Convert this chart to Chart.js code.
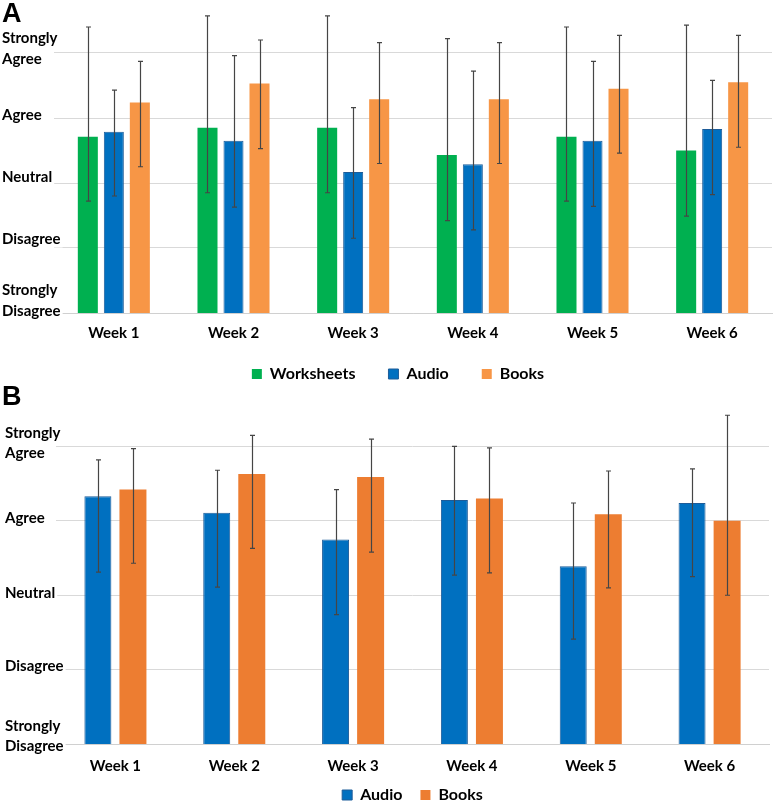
<!DOCTYPE html>
<html><head><meta charset="utf-8">
<script src="https://cdn.jsdelivr.net/npm/chart.js@4/dist/chart.umd.min.js"></script>
<style>
body{margin:0;background:#fff;width:773px;height:807px;overflow:hidden;position:relative;}
.panel{position:absolute;left:0;width:773px}
.lab{position:absolute;left:2px;font:bold 27px "Liberation Sans",Arial,sans-serif;color:#000;line-height:1}
</style></head><body>
<div class="panel" style="top:0;height:420px"><canvas id="chartA"></canvas></div>
<div class="panel" style="top:380px;height:450px"><canvas id="chartB"></canvas></div>
<div class="lab" style="top:0px">A</div>
<div class="lab" style="top:383px">B</div>
<script>
const weeks = ['Week 1','Week 2','Week 3','Week 4','Week 5','Week 6'];
const likertLabels = [['Strongly','Disagree'],'Disagree','Neutral','Agree',['Strongly','Agree']];
const likertValues = [1,2,3,4,5];

// Panel A
const aWorksheets     = [3.71,3.85,3.85,3.43,3.71,3.50];
const aWorksheetsLow  = [2.72,2.85,2.85,2.42,2.72,2.49];
const aWorksheetsHigh = [5.40,5.57,5.57,5.22,5.40,5.43];
const aAudio          = [3.79,3.65,3.17,3.29,3.65,3.83];
const aAudioLow       = [2.80,2.63,2.15,2.28,2.64,2.82];
const aAudioHigh      = [4.43,4.96,4.16,4.72,4.87,4.58];
const aBooks          = [4.24,4.53,4.29,4.29,4.45,4.55];
const aBooksLow       = [3.25,3.53,3.30,3.30,3.46,3.55];
const aBooksHigh      = [4.87,5.20,5.16,5.16,5.27,5.27];

// Panel B
const bAudio      = [4.33,4.11,3.75,4.28,3.39,4.24];
const bAudioLow   = [3.31,3.11,2.74,3.27,2.41,3.25];
const bAudioHigh  = [4.82,4.68,4.42,5.00,4.24,4.70];
const bBooks      = [4.42,4.63,4.59,4.30,4.09,4.00];
const bBooksLow   = [3.43,3.63,3.58,3.30,3.10,3.00];
const bBooksHigh  = [4.97,5.15,5.10,4.98,4.67,5.42];

const FONT = 'Lato';

const errorBars = {
  id: 'errorBars',
  afterDatasetsDraw(chart) {
    const ctx = chart.ctx, ys = chart.scales.y;
    chart.data.datasets.forEach((ds, i) => {
      const meta = chart.getDatasetMeta(i);
      meta.data.forEach((bar, j) => {
        const x = Math.round(bar.x) + 0.5;
        const yl = ys.getPixelForValue(ds.errLow[j]);
        const yh = ys.getPixelForValue(ds.errHigh[j]);
        ctx.save();
        ctx.strokeStyle = '#454545';
        ctx.lineWidth = 1.2;
        ctx.beginPath();
        ctx.moveTo(x, yh); ctx.lineTo(x, yl);
        ctx.moveTo(x - 2.5, yh); ctx.lineTo(x + 2.5, yh);
        ctx.moveTo(x - 2.5, yl); ctx.lineTo(x + 2.5, yl);
        ctx.stroke();
        ctx.restore();
      });
    });
  }
};

// Draws the Likert category names next to the y scale ticks
function makeAxisLabels(cfg) {
  return {
    id: 'likertAxisLabels',
    afterDraw(chart) {
      const ys = chart.scales.y, ctx = chart.ctx;
      ctx.save();
      ctx.font = 'bold ' + cfg.size + 'px ' + FONT;
      ctx.textAlign = 'left';
      ctx.textBaseline = 'middle';
      likertValues.forEach((v, i) => {
        const lines = [].concat(likertLabels[i]);
        const cy = ys.getPixelForValue(v) + cfg.shift[i];
        lines.forEach((ln, k) => {
          const y = cy + (k - (lines.length - 1) / 2) * cfg.lineH;
          const w = ctx.measureText(ln).width;
          ctx.fillStyle = '#fff';
          ctx.fillRect(cfg.x - 1, y - 8, w + 3, 16);
          ctx.fillStyle = '#000';
          ctx.fillText(ln, cfg.x, y);
        });
      });
      ctx.restore();
    }
  };
}

function makeLegendShift(dx, dy) {
  return {
    id: 'legendShift',
    afterLayout(chart) {
      const lg = chart.legend;
      if (lg) { lg.left += dx; lg.right += dx; lg.top += dy; lg.bottom += dy; }
    }
  };
}

function makeOptions(cfg) {
  return {
    responsive: true,
    maintainAspectRatio: false,
    animation: false,
    layout: { padding: { top: cfg.padTop, right: cfg.padRight, left: 0, bottom: cfg.padBottom } },
    plugins: {
      tooltip: { enabled: false },
      legend: {
        position: 'bottom',
        fullSize: false,
        labels: {
          boxWidth: 10, boxHeight: 10, padding: cfg.legendPad,
          color: '#000', font: { family: FONT, weight: 'bold', size: 16 }
        }
      }
    },
    scales: {
      x: {
        grid: { display: false, drawTicks: false },
        border: { display: true, color: '#d0d0d0' },
        ticks: { color: '#000', padding: cfg.xPad, font: { family: FONT, weight: 'bold', size: 15 } },
        afterFit(s) { s.height = cfg.xHeight; }
      },
      y: {
        min: 1, max: cfg.yMax,
        afterBuildTicks(s) { s.ticks = likertValues.map(v => ({ value: v })); },
        afterFit(s) { s.width = cfg.yWidth; s.paddingTop = 0; s.paddingBottom = 0; },
        grid: { color: '#d9d9d9', lineWidth: 1, drawTicks: false },
        border: { display: false },
        ticks: { display: false }
      }
    }
  };
}

new Chart(document.getElementById('chartA'), {
  type: 'bar',
  data: {
    labels: weeks,
    datasets: [
      { label: 'Worksheets', data: aWorksheets, errLow: aWorksheetsLow, errHigh: aWorksheetsHigh,
        backgroundColor: '#00b050', barPercentage: 0.77, categoryPercentage: 0.652 },
      { label: 'Audio', data: aAudio, errLow: aAudioLow, errHigh: aAudioHigh,
        backgroundColor: '#0070c0', borderColor: '#1d5c99', borderWidth: 1, barPercentage: 0.77, categoryPercentage: 0.652 },
      { label: 'Books', data: aBooks, errLow: aBooksLow, errHigh: aBooksHigh,
        backgroundColor: '#f79646', barPercentage: 0.77, categoryPercentage: 0.652 }
    ]
  },
  options: makeOptions({ padTop: 14, padRight: 1, padBottom: 6, legendPad: 33, xPad: 11, xHeight: 42, yMax: 5.6, yWidth: 54 }),
  plugins: [errorBars, makeAxisLabels({ x: 2, size: 15, lineH: 21, shift: [-12, -8.5, -5.5, -3, -4] }), makeLegendShift(-15, -22)]
});

new Chart(document.getElementById('chartB'), {
  type: 'bar',
  data: {
    labels: weeks,
    datasets: [
      { label: 'Audio', data: bAudio, errLow: bAudioLow, errHigh: bAudioHigh,
        backgroundColor: '#0070c0', borderColor: '#1d5c99', borderWidth: 1, barPercentage: 0.77, categoryPercentage: 0.59 },
      { label: 'Books', data: bBooks, errLow: bBooksLow, errHigh: bBooksHigh,
        backgroundColor: '#ed7d31', barPercentage: 0.77, categoryPercentage: 0.59 }
    ]
  },
  options: makeOptions({ padTop: 33, padRight: 4, padBottom: 6, legendPad: 18, xPad: 13, xHeight: 36, yMax: 5.45, yWidth: 56 }),
  plugins: [errorBars, makeAxisLabels({ x: 5, size: 15, lineH: 20, shift: [-8, -3, -2, -3, -3] }), makeLegendShift(0, -11)]
});
</script>
</body></html>
